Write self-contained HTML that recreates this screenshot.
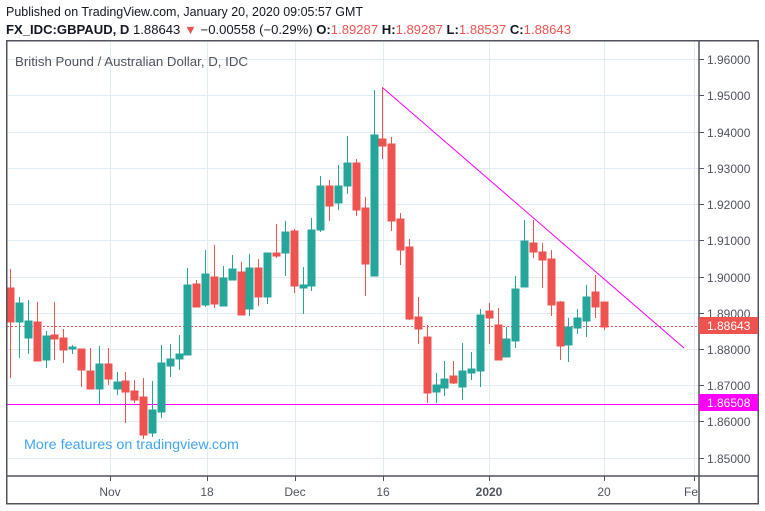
<!DOCTYPE html>
<html><head><meta charset="utf-8"><style>
body{margin:0;background:#fff;width:765px;height:511px;overflow:hidden;font-family:"Liberation Sans",sans-serif}
svg{position:absolute;left:0;top:0}
</style></head><body>
<svg width="765" height="511" xmlns="http://www.w3.org/2000/svg" font-family="Liberation Sans, sans-serif">
<text x="6" y="16" font-size="12.5" fill="#131722" textLength="357" lengthAdjust="spacingAndGlyphs">Published on TradingView.com, January 20, 2020 09:05:57 GMT</text>
<text x="6" y="34" font-size="12.5" fill="#131722" textLength="565" lengthAdjust="spacingAndGlyphs"><tspan font-weight="bold">FX_IDC:GBPAUD, D</tspan> 1.88643 <tspan fill="#ef5350">▼</tspan> −0.00558 (−0.29%) <tspan font-weight="bold">O:</tspan><tspan fill="#ef5350">1.89287</tspan> <tspan font-weight="bold">H:</tspan><tspan fill="#ef5350">1.89287</tspan> <tspan font-weight="bold">L:</tspan><tspan fill="#ef5350">1.88537</tspan> <tspan font-weight="bold">C:</tspan><tspan fill="#ef5350">1.88643</tspan></text>
<g stroke="#e1ecf2" stroke-width="1">
<line x1="7" x2="699" y1="59.5" y2="59.5"/><line x1="7" x2="699" y1="95.5" y2="95.5"/><line x1="7" x2="699" y1="132.5" y2="132.5"/><line x1="7" x2="699" y1="168.5" y2="168.5"/><line x1="7" x2="699" y1="204.5" y2="204.5"/><line x1="7" x2="699" y1="240.5" y2="240.5"/><line x1="7" x2="699" y1="277.5" y2="277.5"/><line x1="7" x2="699" y1="313.5" y2="313.5"/><line x1="7" x2="699" y1="349.5" y2="349.5"/><line x1="7" x2="699" y1="385.5" y2="385.5"/><line x1="7" x2="699" y1="421.5" y2="421.5"/><line x1="7" x2="699" y1="458.5" y2="458.5"/>
<line x1="110.5" x2="110.5" y1="41" y2="476"/><line x1="207.5" x2="207.5" y1="41" y2="476"/><line x1="295.5" x2="295.5" y1="41" y2="476"/><line x1="383.5" x2="383.5" y1="41" y2="476"/><line x1="489.5" x2="489.5" y1="41" y2="476"/><line x1="604.5" x2="604.5" y1="41" y2="476"/><line x1="694.5" x2="694.5" y1="41" y2="476"/>
</g>
<text x="15" y="66" font-size="12.5" fill="#50535e" textLength="233" lengthAdjust="spacingAndGlyphs">British Pound / Australian Dollar, D, IDC</text>
<line x1="7" x2="699" y1="326.5" y2="326.5" stroke="#ef5350" stroke-dasharray="2,2"/>
<line x1="7" x2="699" y1="404.5" y2="404.5" stroke="#ff00ff" stroke-width="1"/>
<line x1="383" y1="88" x2="684" y2="348" stroke="#ff00ff" stroke-width="1"/>
<g stroke-width="1">
<g stroke="#ef5350" fill="#ef5350"><line x1="10.5" x2="10.5" y1="269" y2="378"/><rect x="7" y="288" width="7" height="34"/></g>
<g stroke="#26a69a" fill="#26a69a"><line x1="19.5" x2="19.5" y1="297" y2="358"/><rect x="16" y="303" width="7" height="19"/></g>
<g stroke="#26a69a" fill="#26a69a"><line x1="28.5" x2="28.5" y1="300" y2="354"/><rect x="25" y="321" width="7" height="17"/></g>
<g stroke="#ef5350" fill="#ef5350"><line x1="37.5" x2="37.5" y1="302" y2="361"/><rect x="34" y="322" width="7" height="39"/></g>
<g stroke="#26a69a" fill="#26a69a"><line x1="46.5" x2="46.5" y1="331" y2="368"/><rect x="43" y="336" width="7" height="24"/></g>
<g stroke="#ef5350" fill="#ef5350"><line x1="54.5" x2="54.5" y1="302" y2="360"/><rect x="51" y="335" width="7" height="4"/></g>
<g stroke="#ef5350" fill="#ef5350"><line x1="63.5" x2="63.5" y1="329" y2="363"/><rect x="60" y="338" width="7" height="12"/></g>
<g stroke="#26a69a" fill="#26a69a"><line x1="72.5" x2="72.5" y1="345" y2="354"/><rect x="69" y="347" width="7" height="2"/></g>
<g stroke="#ef5350" fill="#ef5350"><line x1="81.5" x2="81.5" y1="349" y2="387"/><rect x="78" y="349" width="7" height="21"/></g>
<g stroke="#ef5350" fill="#ef5350"><line x1="90.5" x2="90.5" y1="348" y2="389"/><rect x="87" y="371" width="7" height="18"/></g>
<g stroke="#26a69a" fill="#26a69a"><line x1="99.5" x2="99.5" y1="346" y2="404"/><rect x="96" y="364" width="7" height="25"/></g>
<g stroke="#ef5350" fill="#ef5350"><line x1="108.5" x2="108.5" y1="348" y2="385"/><rect x="105" y="364" width="7" height="15"/></g>
<g stroke="#26a69a" fill="#26a69a"><line x1="117.5" x2="117.5" y1="372" y2="395"/><rect x="114" y="382" width="7" height="7"/></g>
<g stroke="#ef5350" fill="#ef5350"><line x1="125.5" x2="125.5" y1="372" y2="423"/><rect x="122" y="381" width="7" height="11"/></g>
<g stroke="#ef5350" fill="#ef5350"><line x1="134.5" x2="134.5" y1="380" y2="403"/><rect x="131" y="391" width="7" height="9"/></g>
<g stroke="#ef5350" fill="#ef5350"><line x1="143.5" x2="143.5" y1="378" y2="439"/><rect x="140" y="397" width="7" height="38"/></g>
<g stroke="#26a69a" fill="#26a69a"><line x1="152.5" x2="152.5" y1="381" y2="437"/><rect x="149" y="410" width="7" height="23"/></g>
<g stroke="#26a69a" fill="#26a69a"><line x1="161.5" x2="161.5" y1="345" y2="418"/><rect x="158" y="363" width="7" height="49"/></g>
<g stroke="#26a69a" fill="#26a69a"><line x1="170.5" x2="170.5" y1="344" y2="377"/><rect x="167" y="359" width="7" height="7"/></g>
<g stroke="#26a69a" fill="#26a69a"><line x1="179.5" x2="179.5" y1="335" y2="370"/><rect x="176" y="354" width="7" height="5"/></g>
<g stroke="#26a69a" fill="#26a69a"><line x1="187.5" x2="187.5" y1="268" y2="355"/><rect x="184" y="285" width="7" height="70"/></g>
<g stroke="#ef5350" fill="#ef5350"><line x1="196.5" x2="196.5" y1="280" y2="307"/><rect x="193" y="284" width="7" height="23"/></g>
<g stroke="#26a69a" fill="#26a69a"><line x1="205.5" x2="205.5" y1="250" y2="307"/><rect x="202" y="274" width="7" height="31"/></g>
<g stroke="#ef5350" fill="#ef5350"><line x1="214.5" x2="214.5" y1="245" y2="308"/><rect x="211" y="277" width="7" height="27"/></g>
<g stroke="#26a69a" fill="#26a69a"><line x1="223.5" x2="223.5" y1="266" y2="306"/><rect x="220" y="278" width="7" height="28"/></g>
<g stroke="#26a69a" fill="#26a69a"><line x1="232.5" x2="232.5" y1="255" y2="280"/><rect x="229" y="269" width="7" height="11"/></g>
<g stroke="#ef5350" fill="#ef5350"><line x1="241.5" x2="241.5" y1="262" y2="315"/><rect x="238" y="272" width="7" height="43"/></g>
<g stroke="#26a69a" fill="#26a69a"><line x1="249.5" x2="249.5" y1="254" y2="316"/><rect x="246" y="268" width="7" height="41"/></g>
<g stroke="#ef5350" fill="#ef5350"><line x1="258.5" x2="258.5" y1="259" y2="306"/><rect x="255" y="268" width="7" height="29"/></g>
<g stroke="#26a69a" fill="#26a69a"><line x1="267.5" x2="267.5" y1="253" y2="304"/><rect x="264" y="253" width="7" height="44"/></g>
<g stroke="#ef5350" fill="#ef5350"><line x1="276.5" x2="276.5" y1="224" y2="258"/><rect x="273" y="253" width="7" height="3"/></g>
<g stroke="#26a69a" fill="#26a69a"><line x1="285.5" x2="285.5" y1="221" y2="276"/><rect x="282" y="232" width="7" height="21"/></g>
<g stroke="#ef5350" fill="#ef5350"><line x1="294.5" x2="294.5" y1="229" y2="293"/><rect x="291" y="231" width="7" height="55"/></g>
<g stroke="#26a69a" fill="#26a69a"><line x1="303.5" x2="303.5" y1="267" y2="314"/><rect x="300" y="285" width="7" height="3"/></g>
<g stroke="#26a69a" fill="#26a69a"><line x1="311.5" x2="311.5" y1="218" y2="291"/><rect x="308" y="230" width="7" height="56"/></g>
<g stroke="#26a69a" fill="#26a69a"><line x1="320.5" x2="320.5" y1="176" y2="232"/><rect x="317" y="186" width="7" height="44"/></g>
<g stroke="#ef5350" fill="#ef5350"><line x1="329.5" x2="329.5" y1="180" y2="221"/><rect x="326" y="186" width="7" height="20"/></g>
<g stroke="#26a69a" fill="#26a69a"><line x1="338.5" x2="338.5" y1="165" y2="210"/><rect x="335" y="186" width="7" height="17"/></g>
<g stroke="#26a69a" fill="#26a69a"><line x1="347.5" x2="347.5" y1="136" y2="194"/><rect x="344" y="163" width="7" height="23"/></g>
<g stroke="#ef5350" fill="#ef5350"><line x1="356.5" x2="356.5" y1="159" y2="216"/><rect x="353" y="163" width="7" height="47"/></g>
<g stroke="#ef5350" fill="#ef5350"><line x1="365.5" x2="365.5" y1="197" y2="296"/><rect x="362" y="208" width="7" height="56"/></g>
<g stroke="#26a69a" fill="#26a69a"><line x1="374.5" x2="374.5" y1="90" y2="276"/><rect x="371" y="135" width="7" height="141"/></g>
<g stroke="#ef5350" fill="#ef5350"><line x1="382.5" x2="382.5" y1="87" y2="159"/><rect x="379" y="139" width="7" height="7"/></g>
<g stroke="#ef5350" fill="#ef5350"><line x1="391.5" x2="391.5" y1="137" y2="231"/><rect x="388" y="144" width="7" height="77"/></g>
<g stroke="#ef5350" fill="#ef5350"><line x1="400.5" x2="400.5" y1="213" y2="265"/><rect x="397" y="219" width="7" height="31"/></g>
<g stroke="#ef5350" fill="#ef5350"><line x1="409.5" x2="409.5" y1="239" y2="320"/><rect x="406" y="247" width="7" height="72"/></g>
<g stroke="#ef5350" fill="#ef5350"><line x1="418.5" x2="418.5" y1="297" y2="344"/><rect x="415" y="317" width="7" height="12"/></g>
<g stroke="#ef5350" fill="#ef5350"><line x1="427.5" x2="427.5" y1="325" y2="403"/><rect x="424" y="337" width="7" height="56"/></g>
<g stroke="#26a69a" fill="#26a69a"><line x1="436.5" x2="436.5" y1="373" y2="403"/><rect x="433" y="385" width="7" height="7"/></g>
<g stroke="#26a69a" fill="#26a69a"><line x1="444.5" x2="444.5" y1="361" y2="396"/><rect x="441" y="379" width="7" height="9"/></g>
<g stroke="#ef5350" fill="#ef5350"><line x1="453.5" x2="453.5" y1="361" y2="384"/><rect x="450" y="376" width="7" height="7"/></g>
<g stroke="#26a69a" fill="#26a69a"><line x1="462.5" x2="462.5" y1="343" y2="400"/><rect x="459" y="371" width="7" height="16"/></g>
<g stroke="#26a69a" fill="#26a69a"><line x1="471.5" x2="471.5" y1="352" y2="380"/><rect x="468" y="369" width="7" height="4"/></g>
<g stroke="#26a69a" fill="#26a69a"><line x1="480.5" x2="480.5" y1="309" y2="387"/><rect x="477" y="315" width="7" height="56"/></g>
<g stroke="#ef5350" fill="#ef5350"><line x1="489.5" x2="489.5" y1="303" y2="344"/><rect x="486" y="311" width="7" height="7"/></g>
<g stroke="#ef5350" fill="#ef5350"><line x1="498.5" x2="498.5" y1="308" y2="360"/><rect x="495" y="325" width="7" height="35"/></g>
<g stroke="#26a69a" fill="#26a69a"><line x1="506.5" x2="506.5" y1="327" y2="357"/><rect x="503" y="339" width="7" height="18"/></g>
<g stroke="#26a69a" fill="#26a69a"><line x1="515.5" x2="515.5" y1="276" y2="348"/><rect x="512" y="289" width="7" height="52"/></g>
<g stroke="#26a69a" fill="#26a69a"><line x1="524.5" x2="524.5" y1="220" y2="287"/><rect x="521" y="241" width="7" height="46"/></g>
<g stroke="#ef5350" fill="#ef5350"><line x1="533.5" x2="533.5" y1="220" y2="258"/><rect x="530" y="243" width="7" height="9"/></g>
<g stroke="#ef5350" fill="#ef5350"><line x1="542.5" x2="542.5" y1="243" y2="288"/><rect x="539" y="252" width="7" height="8"/></g>
<g stroke="#ef5350" fill="#ef5350"><line x1="551.5" x2="551.5" y1="250" y2="316"/><rect x="548" y="259" width="7" height="46"/></g>
<g stroke="#ef5350" fill="#ef5350"><line x1="560.5" x2="560.5" y1="301" y2="360"/><rect x="557" y="302" width="7" height="44"/></g>
<g stroke="#26a69a" fill="#26a69a"><line x1="568.5" x2="568.5" y1="318" y2="362"/><rect x="565" y="327" width="7" height="18"/></g>
<g stroke="#26a69a" fill="#26a69a"><line x1="577.5" x2="577.5" y1="309" y2="334"/><rect x="574" y="318" width="7" height="10"/></g>
<g stroke="#26a69a" fill="#26a69a"><line x1="586.5" x2="586.5" y1="285" y2="337"/><rect x="583" y="297" width="7" height="24"/></g>
<g stroke="#ef5350" fill="#ef5350"><line x1="595.5" x2="595.5" y1="275" y2="318"/><rect x="592" y="292" width="7" height="15"/></g>
<g stroke="#ef5350" fill="#ef5350"><line x1="604.5" x2="604.5" y1="302" y2="330"/><rect x="601" y="302" width="7" height="25"/></g>
</g>
<text x="24" y="449" font-size="13.5" fill="#2196f3" opacity="0.85" textLength="215" lengthAdjust="spacingAndGlyphs">More features on tradingview.com</text>
<g stroke="#50535e" stroke-width="1.5" fill="none">
<rect x="6.75" y="40.75" width="751.5" height="463"/>
<line x1="699" x2="699" y1="41" y2="504"/>
<line x1="7" x2="758" y1="476" y2="476"/>
</g>
<g stroke="#50535e" stroke-width="1">
<line x1="110.5" x2="110.5" y1="476" y2="481"/><line x1="207.5" x2="207.5" y1="476" y2="481"/><line x1="295.5" x2="295.5" y1="476" y2="481"/><line x1="383.5" x2="383.5" y1="476" y2="481"/><line x1="489.5" x2="489.5" y1="476" y2="481"/><line x1="604.5" x2="604.5" y1="476" y2="481"/><line x1="694.5" x2="694.5" y1="476" y2="481"/>
<line x1="699" x2="704" y1="59.5" y2="59.5"/><line x1="699" x2="704" y1="95.5" y2="95.5"/><line x1="699" x2="704" y1="132.5" y2="132.5"/><line x1="699" x2="704" y1="168.5" y2="168.5"/><line x1="699" x2="704" y1="204.5" y2="204.5"/><line x1="699" x2="704" y1="240.5" y2="240.5"/><line x1="699" x2="704" y1="277.5" y2="277.5"/><line x1="699" x2="704" y1="313.5" y2="313.5"/><line x1="699" x2="704" y1="349.5" y2="349.5"/><line x1="699" x2="704" y1="385.5" y2="385.5"/><line x1="699" x2="704" y1="421.5" y2="421.5"/><line x1="699" x2="704" y1="458.5" y2="458.5"/>
</g>
<g font-size="12" fill="#50535e">
<text x="707" y="64">1.96000</text><text x="707" y="100">1.95000</text><text x="707" y="137">1.94000</text><text x="707" y="173">1.93000</text><text x="707" y="209">1.92000</text><text x="707" y="245">1.91000</text><text x="707" y="282">1.90000</text><text x="707" y="318">1.89000</text><text x="707" y="354">1.88000</text><text x="707" y="390">1.87000</text><text x="707" y="426">1.86000</text><text x="707" y="463">1.85000</text>
</g>
<rect x="699" y="317" width="59" height="17" fill="#ef5350"/>
<text x="707" y="330" font-size="12" fill="#fff">1.88643</text>
<rect x="699" y="394" width="59" height="17" fill="#ff00ff"/>
<text x="707" y="407" font-size="12" fill="#fff">1.86508</text>
<g font-size="12" fill="#50535e" text-anchor="middle">
<text x="110" y="496">Nov</text><text x="207" y="496">18</text><text x="295" y="496">Dec</text><text x="383" y="496">16</text><text x="489" y="496" font-weight="bold">2020</text><text x="604" y="496">20</text><text x="691" y="496">Fe</text>
</g>
</svg>
</body></html>
